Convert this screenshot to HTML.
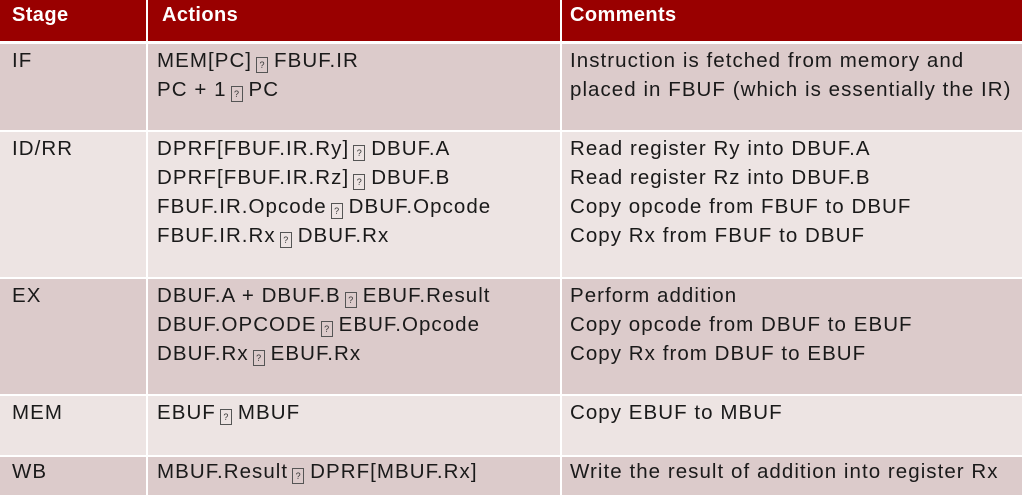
<!DOCTYPE html>
<html><head><meta charset="utf-8"><style>
body{margin:0;width:1022px;height:495px;overflow:hidden;background:#fff;font-family:"Liberation Sans",sans-serif;}
.r{position:absolute;left:0;width:1022px;}
.t{position:absolute;font-size:20.5px;letter-spacing:1.05px;color:#1a1a1a;white-space:nowrap;line-height:29px;}
.h{color:#fff;font-weight:bold;font-size:20px;letter-spacing:0.4px;}
.b{display:inline-block;width:10px;height:14px;border:1px solid #555;font-size:9px;letter-spacing:0;line-height:14px;text-align:center;vertical-align:-1px;margin:0 6px 0 4px;color:#333;}
</style></head><body>
<div class="r" style="top:0;height:41px;background:#990000"></div>
<div class="r" style="top:44px;height:86px;background:#dccbcb"></div>
<div class="r" style="top:132px;height:145px;background:#ede4e3"></div>
<div class="r" style="top:279px;height:115px;background:#dccbcb"></div>
<div class="r" style="top:396px;height:59px;background:#ede4e3"></div>
<div class="r" style="top:457px;height:38px;background:#dccbcb"></div>
<div style="position:absolute;left:146px;top:0;width:2px;height:495px;background:#fff"></div>
<div style="position:absolute;left:560px;top:0;width:2px;height:495px;background:#fff"></div>

<div class="t h" style="left:12px;top:1px">Stage</div>
<div class="t h" style="left:162px;top:1px">Actions</div>
<div class="t h" style="left:570px;top:1px">Comments</div>

<div class="t" style="left:12px;top:46px">IF</div>
<div class="t" style="left:157px;top:46px">MEM[PC]<span class="b">?</span>FBUF.IR<br>PC + 1<span class="b">?</span>PC</div>
<div class="t" style="left:570px;top:46px">Instruction is fetched from memory and<br>placed in FBUF (which is essentially the IR)</div>

<div class="t" style="left:12px;top:134px">ID/RR</div>
<div class="t" style="left:157px;top:134px">DPRF[FBUF.IR.Ry]<span class="b">?</span>DBUF.A<br>DPRF[FBUF.IR.Rz]<span class="b">?</span>DBUF.B<br>FBUF.IR.Opcode<span class="b">?</span>DBUF.Opcode<br>FBUF.IR.Rx<span class="b">?</span>DBUF.Rx</div>
<div class="t" style="left:570px;top:134px">Read register Ry into DBUF.A<br>Read register Rz into DBUF.B<br>Copy opcode from FBUF to DBUF<br>Copy Rx from FBUF to DBUF</div>

<div class="t" style="left:12px;top:281px">EX</div>
<div class="t" style="left:157px;top:281px">DBUF.A + DBUF.B<span class="b">?</span>EBUF.Result<br>DBUF.OPCODE<span class="b">?</span>EBUF.Opcode<br>DBUF.Rx<span class="b">?</span>EBUF.Rx</div>
<div class="t" style="left:570px;top:281px">Perform addition<br>Copy opcode from DBUF to EBUF<br>Copy Rx from DBUF to EBUF</div>

<div class="t" style="left:12px;top:398px">MEM</div>
<div class="t" style="left:157px;top:398px">EBUF<span class="b">?</span>MBUF</div>
<div class="t" style="left:570px;top:398px">Copy EBUF to MBUF</div>

<div class="t" style="left:12px;top:457px">WB</div>
<div class="t" style="left:157px;top:457px">MBUF.Result<span class="b">?</span>DPRF[MBUF.Rx]</div>
<div class="t" style="left:570px;top:457px">Write the result of addition into register Rx</div>
</body></html>
